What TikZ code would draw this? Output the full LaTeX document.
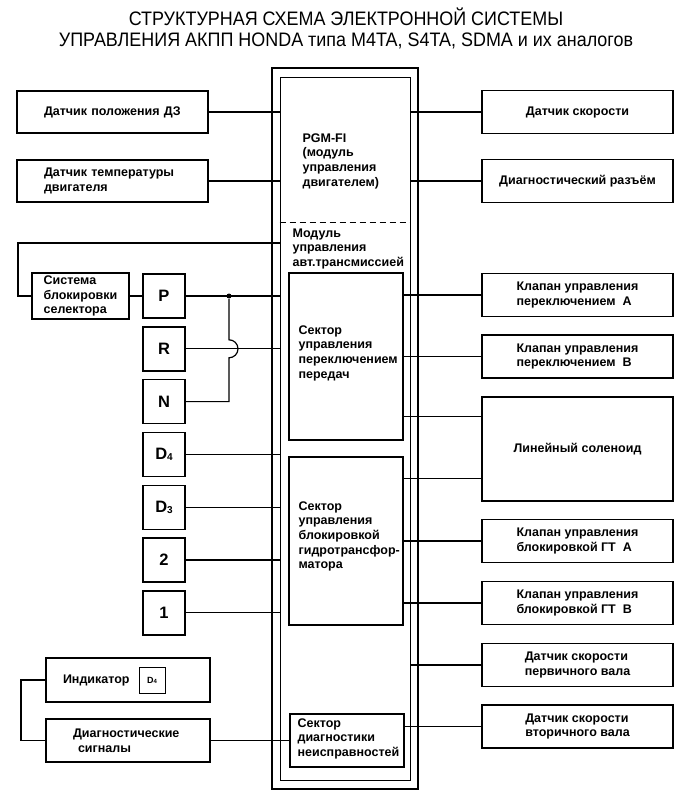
\documentclass[tikz,border=0pt]{standalone}
\usepackage{fontspec}
\setmainfont{Liberation Sans}
\newfontfamily\titlefont[FakeStretch=0.92]{Liberation Sans}
\usetikzlibrary{calc}
\newcommand{\dsub}[1]{\raisebox{-0.1ex}{\fontsize{10}{10}\selectfont #1}}

\begin{document}
\begin{tikzpicture}[x=1pt, y=-1pt, line width=1.2pt,
  box/.style={draw, line width=1.4pt, inner sep=0pt, font=\fontsize{12.5}{14.6}\selectfont\bfseries},
  lbox/.style={box, minimum width=191pt, minimum height=42pt, align=left, text width=137pt, inner xsep=27pt},
  rbox/.style={box, minimum width=191pt, minimum height=43pt, align=left},
  gear/.style={box, minimum width=42pt, minimum height=44pt, font=\fontsize{16.5}{16.5}\selectfont\bfseries},
  sect/.style={draw, line width=1.2pt, minimum width=114pt, inner sep=0pt},
  txt/.style={font=\fontsize{12.5}{14.6}\selectfont\bfseries, align=left, inner sep=0pt},
  dot/.style={circle, fill, inner sep=0pt, minimum size=5pt}]
\useasboundingbox (0,0) rectangle (692,794);
\node[font=\titlefont\fontsize{19.5}{21}\selectfont, align=center] (title) at (346,28)
  {СТРУКТУРНАЯ СХЕМА ЭЛЕКТРОННОЙ СИСТЕМЫ\\УПРАВЛЕНИЯ АКПП HONDA типа M4TA, S4TA, SDMA и их аналогов};

\node[draw, line width=2.4pt, minimum width=146pt, minimum height=721pt, inner sep=0pt] (outer) at (345,428.5) {};
\node[draw, line width=1pt, minimum width=130pt, minimum height=702pt, inner sep=0pt] (inner) at (345,429) {};
\coordinate (split) at (345,223);
\draw[line width=1pt, dash pattern=on 6pt off 4pt] (split -| inner.west) -- (split -| inner.east);
\node[txt, anchor=north west] (pgm) at (302,133) {PGM-FI\\(модуль\\управления\\двигателем)};
\node[txt, anchor=north west] (akpp) at (292,228) {Модуль\\управления\\авт.трансмиссией};
\node[sect, minimum height=167pt] (sec1) at (346,356.5) {};
\node[sect, minimum height=168pt] (sec2) at (346,541) {};
\node[sect, minimum height=53pt] (sec3) at (347,740.5) {};
\node[txt, anchor=north west] (sec1t) at (298,325) {Сектор\\управления\\переключением\\передач};
\node[txt, anchor=north west] (sec2t) at (298,501) {Сектор\\управления\\блокировкой\\гидротрансфор-\\матора};
\node[txt, anchor=north west] (sec3t) at (297,718) {Сектор\\диагностики\\неисправностей};

\node[lbox] (dz) at (112.5,112) {Датчик положения ДЗ};
\node[lbox] (temp) at (112.5,181) {Датчик температуры\\двигателя};
\draw (dz) -- (dz -| inner.west);
\draw (temp) -- (temp -| inner.west);

\node[rbox] (spd) at (577.5,112) {Датчик скорости};
\node[rbox] (dgc) at (577.5,181) {Диагностический разъём};
\node[rbox] (vA) at (577.5,295) {Клапан управления\\переключением\ \ А};
\node[rbox] (vB) at (577.5,356.5) {Клапан управления\\переключением\ \ В};
\node[rbox, minimum height=104pt] (lin) at (577.5,449) {Линейный соленоид};
\node[rbox] (gA) at (577.5,541) {Клапан управления\\блокировкой ГТ\ \ А};
\node[rbox] (gB) at (577.5,603) {Клапан управления\\блокировкой ГТ\ \ В};
\node[rbox] (prim) at (577.5,665) {Датчик скорости\\первичного вала};
\node[rbox] (scnd) at (577.5,726.5) {Датчик скорости\\вторичного вала};
\draw (spd) -- (spd -| inner.east);
\draw (dgc) -- (dgc -| inner.east);
\draw (vA) -- (vA -| sec1.east);
\draw (vB) -- (vB -| sec1.east);
\coordinate (l1) at ($(lin.north west)+(0,20)$);
\coordinate (l2) at ($(lin.south west)+(0,-23)$);
\draw (l1) -- (l1 -| sec1.east);
\draw (l2) -- (l2 -| sec2.east);
\draw (gA) -- (gA -| sec2.east);
\draw (gB) -- (gB -| sec2.east);
\draw (prim) -- (prim -| inner.east);
\draw (scnd) -- (scnd -| sec3.east);

\node[box, minimum width=97pt, minimum height=46pt, align=left] (sel) at (80.5,296) {Система\\блокировки\\селектора};
\foreach \g/\lbl [count=\i from 0] in {P/P, R/R, N/N, D4/D\dsub{4}, D3/D\dsub{3}, 2/2, 1/1}
  \node[gear] (g\g) at (164,{296+52.8*\i}) {\lbl};
\foreach \g in {P,R,D4,D3,2,1}
  \draw (g\g) -- (g\g -| inner.west);
\draw (sel) -- (gP);
\coordinate (loopc) at (18,243);
\draw (sel.west) -| (loopc) -- (loopc -| inner.west);
\coordinate (jx) at (229,0);
\node[dot] (jp) at (gP -| jx) {};
\draw (gN) -- (gN -| jx) -- ($(gR -| jx)+(0,9)$) arc[start angle=-90, end angle=90, radius=9pt] -- (jp);

\node[box, minimum width=164pt, minimum height=44pt, text width=130pt, inner xsep=17pt, align=left] (ind) at (128,680) {Индикатор};
\node[draw, line width=0.8pt, minimum size=26pt, inner sep=0pt, font=\fontsize{9}{9}\selectfont\bfseries] (indd) at (152,680) {D{\fontsize{6}{6}\selectfont 4}};
\node[box, minimum width=164pt, minimum height=43pt, text width=110pt, inner xsep=27pt, align=left] (dsig) at (128,740.5) {Диагностические\\\hspace*{5pt}сигналы};
\coordinate (brk) at (21,0);
\draw (ind.west) -- (ind.west -| brk) -- (dsig.west -| brk) -- (dsig.west);
\draw (dsig) -- (dsig -| sec3.west);
\end{tikzpicture}
\end{document}
